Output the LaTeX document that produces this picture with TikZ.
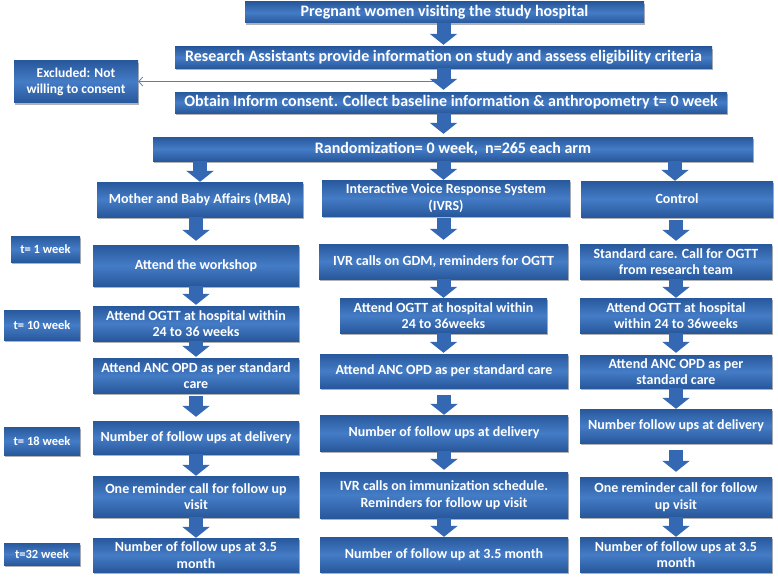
\documentclass[tikz,border=0pt]{standalone}
\usepackage{fontspec}
\setmainfont{Carlito}
\usetikzlibrary{arrows.meta,shadows}
\definecolor{bdark}{RGB}{40,88,156}
\definecolor{blight}{RGB}{68,124,198}
\definecolor{arrowc}{RGB}{52,104,178}
\definecolor{linec}{RGB}{79,129,189}
\tikzset{
  box/.style={rectangle, inner sep=0pt, align=center, text=white,
    font=\bfseries\fontsize{14}{16.5}\selectfont,
    top color=bdark, bottom color=bdark, middle color=blight,
    drop shadow={shadow xshift=1pt, shadow yshift=-2pt, opacity=0.3, fill=black}},
  bigbox/.style={box, font=\bfseries\fontsize{16}{18}\selectfont},
  tbox/.style={box, font=\bfseries\fontsize{12.5}{15}\selectfont},
  exbox/.style={box, font=\bfseries\fontsize{13.5}{16}\selectfont},
  sz/.style 2 args={minimum width=#1pt, minimum height=#2pt},
  flow/.style={draw=arrowc, line width=14pt, -{Triangle[length=11pt, width=27pt]}},
  thinline/.style={draw=linec, line width=0.8pt, -{Straight Barb[length=4pt, width=9pt]}},
}
\begin{document}
\begin{tikzpicture}[x=1pt, y=-1pt]
\useasboundingbox (0,0) rectangle (778,578);
% top section
\node[bigbox, sz={399}{21}] (top) at (444.5,12.5) {Pregnant women visiting the study hospital};
\node[bigbox, sz={537}{21}] (ra) at (443.5,57.5) {Research Assistants provide information on study and assess eligibility criteria};
\node[exbox, sz={124}{42}] (ex) at (76,81.5) {Excluded: Not\\willing to consent};
\node[bigbox, sz={552}{21}] (cons) at (451,102.5) {Obtain Inform consent. Collect baseline information \& anthropometry t= 0 week};
\node[bigbox, sz={600}{24}] (rand) at (453,149) {Randomization= 0 week,\ \ n=265 each arm};
% arms
\node[box, sz={206}{35}] (mba) at (200,199.5) {Mother and Baby Affairs (MBA)};
\node[box, sz={248}{36}] (ivrs) at (446,198) {Interactive Voice Response System\\(IVRS)};
\node[box, sz={192}{36}] (ctrl) at (677,199) {Control};
% time labels
\node[tbox, sz={69}{26}] (t1) at (45.5,249) {t= 1 week};
\node[tbox, sz={76}{30}] (t10) at (42,325) {t= 10 week};
\node[tbox, sz={76}{28}] (t18) at (42,441) {t= 18 week};
\node[tbox, sz={76}{22}] (t32) at (42,554) {t=32 week};
% MBA column
\node[box, sz={206}{41}] (m1) at (196,265.5) {Attend the workshop};
\node[box, sz={206}{35}] (m2) at (196,323.5) {Attend OGTT at hospital within\\24 to 36 weeks};
\node[box, sz={206}{35}] (m3) at (196,375.5) {Attend ANC OPD as per standard\\care};
\node[box, sz={206}{33}] (m4) at (196,437.5) {Number of follow ups at delivery};
\node[box, sz={206}{41}] (m5) at (196,496.5) {One reminder call for follow up\\visit};
\node[box, sz={206}{34}] (m6) at (196,555) {Number of follow ups at 3.5\\month};
% IVR column
\node[box, sz={249}{35}] (i1) at (443.5,261.5) {IVR calls on GDM, reminders for OGTT};
\node[box, sz={207}{35}] (i2) at (443.5,315.5) {Attend OGTT at hospital within\\24 to 36weeks};
\node[box, sz={248}{34}] (i3) at (444,371) {Attend ANC OPD as per standard care};
\node[box, sz={248}{36}] (i4) at (444,433) {Number of follow ups at delivery};
\node[box, sz={248}{46}] (i5) at (444,495) {IVR calls on immunization schedule.\\Reminders for follow up visit};
\node[box, sz={248}{35}] (i6) at (444,554.5) {Number of follow up at 3.5 month};
% Control column
\node[box, sz={192}{35}] (c1) at (676,261.5) {Standard care. Call for OGTT\\from research team};
\node[box, sz={192}{35}] (c2) at (676,315.5) {Attend OGTT at hospital\\within 24 to 36weeks};
\node[box, sz={192}{33}] (c3) at (676,371.5) {Attend ANC OPD as per\\standard care};
\node[box, sz={192}{34}] (c4) at (676,426) {Number follow ups at delivery};
\node[box, sz={192}{40}] (c5) at (676,497) {One reminder call for follow\\up visit};
\node[box, sz={192}{35}] (c6) at (676,554.5) {Number of follow ups at 3.5\\month};
% exclusion line
\coordinate (exsrc) at (437,81.5);
\draw[thinline] (exsrc) -- (ex.east);
% block arrows
\draw[flow, shorten >=2pt] (top.south -| ra.south) -- (ra.north);
\draw[flow, shorten >=2pt] (ra.south) -- (ra.south |- cons.north);
\draw[flow, shorten >=3pt] (ra.south |- cons.south) -- (ra.south |- rand.north);
\draw[flow] (mba.north |- rand.south) -- (mba.north);
\draw[flow] (ra.south |- rand.south) -- (ra.south |- ivrs.north);
\draw[flow] ([xshift=-2pt]ctrl.north |- rand.south) -- ([xshift=-2pt]ctrl.north);
\draw[flow, shorten >=4pt] (m1.north |- mba.south) -- (m1.north);
\draw[flow, shorten <=2pt, shorten >=4pt] (i1.north |- ivrs.south) -- (i1.north);
\draw[flow, shorten <=3pt, shorten >=3pt] (c1.north |- ctrl.south) -- (c1.north);
\draw[flow, shorten >=1pt] (m1.south) -- (m2.north);
\draw[flow] (i1.south) -- (i2.north);
\draw[flow] (c1.south) -- (c2.north);
\draw[flow, shorten >=1pt] (m2.south) -- (m3.north);
\draw[flow, shorten >=1pt] (i2.south) -- (i2.south |- i3.north);
\draw[flow, shorten >=2pt] (c2.south) -- (c3.north);
\draw[flow, shorten <=3pt, shorten >=4pt] (m3.south) -- (m4.north);
\draw[flow, shorten <=7pt] (i3.south) -- (i4.north);
\draw[flow] (c3.south) -- (c4.north);
\draw[flow] (m4.south) -- (m5.north);
\draw[flow, shorten >=2pt] (i4.south) -- (i5.north);
\draw[flow, shorten <=7pt, shorten >=5pt] (c4.south) -- (c5.north);
\draw[flow] (m5.south) -- (m6.north);
\draw[flow] (i5.south) -- (i6.north);
\draw[flow] (c5.south) -- (c6.north);
\end{tikzpicture}
\end{document}
